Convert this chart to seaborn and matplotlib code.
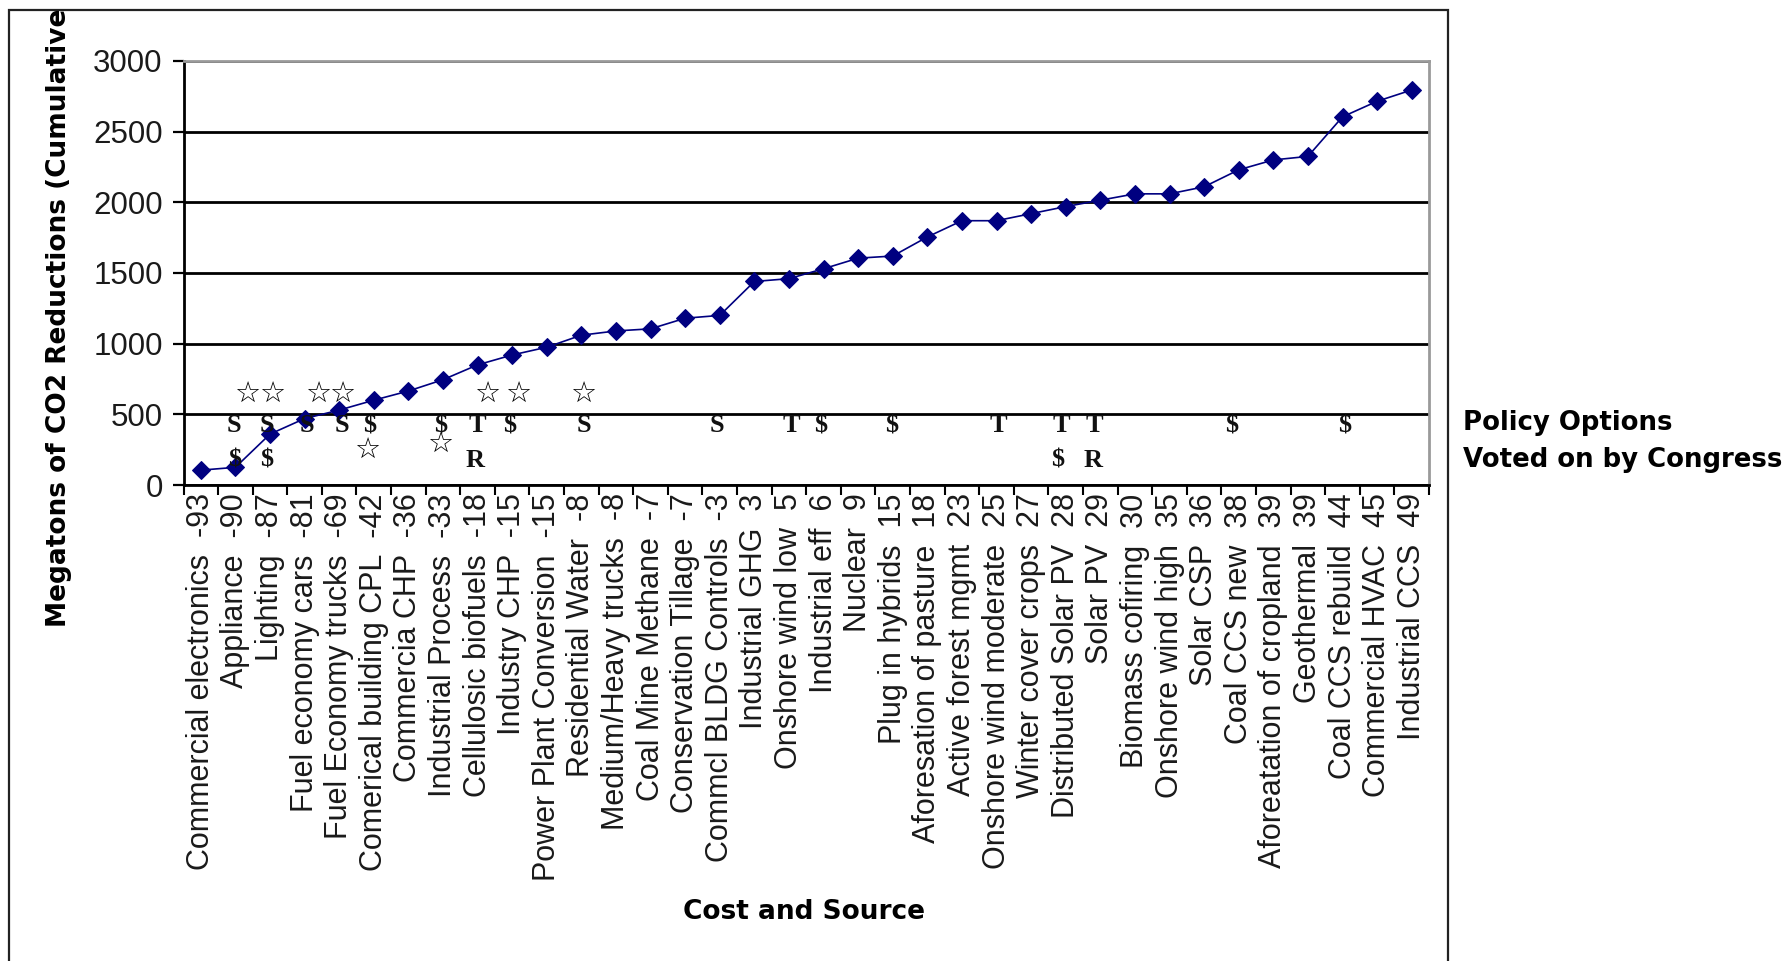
import numpy as np
import pandas as pd
import matplotlib
matplotlib.use("Agg")
import matplotlib.pyplot as plt
import seaborn as sns
from matplotlib.patches import Rectangle

# Abatement options, ordered by cost ($/ton CO2)
options = [
    "Commercial electronics", "Appliance", "Lighting", "Fuel economy cars",
    "Fuel Economy trucks", "Comerical building CPL", "Commercia CHP",
    "Industrial Process", "Cellulosic biofuels", "Industry CHP",
    "Power Plant Conversion", "Residential Water", "Medium/Heavy trucks",
    "Coal Mine Methane", "Conservation Tillage", "Commcl BLDG Controls",
    "Industrial GHG", "Onshore wind low", "Industrial eff", "Nuclear",
    "Plug in hybrids", "Aforesation of pasture", "Active forest mgmt",
    "Onshore wind moderate", "Winter cover crops", "Distributed Solar PV",
    "Solar PV", "Biomass cofiring", "Onshore wind high", "Solar CSP",
    "Coal CCS new", "Aforeatation of cropland", "Geothermal",
    "Coal CCS rebuild", "Commercial HVAC", "Industrial CCS",
]
cost = [-93, -90, -87, -81, -69, -42, -36, -33, -18, -15, -15, -8, -8, -7, -7,
        -3, 3, 5, 6, 9, 15, 18, 23, 25, 27, 28, 29, 30, 35, 36, 38, 39, 39,
        44, 45, 49]
cumulative_mt = [105, 125, 360, 470, 530, 600, 665, 745, 850, 920, 975, 1060,
                 1090, 1105, 1180, 1200, 1440, 1460, 1530, 1605, 1620, 1755,
                 1870, 1870, 1920, 1970, 2015, 2060, 2060, 2110, 2230, 2300,
                 2325, 2605, 2715, 2795]

# Policy symbols placed along the axis: (position in category units, level, symbol)
star_marks = [(1.33, 648), (2.05, 648), (3.38, 648), (4.10, 648), (8.27, 648),
              (9.18, 648), (11.05, 648), (4.82, 250), (6.91, 290)]
letter_marks = [
    (0.97, 420, "S"), (1.90, 420, "S"), (3.08, 420, "S"), (4.07, 420, "S"),
    (4.89, 420, "$"), (6.94, 420, "$"), (8.00, 420, "T"), (8.92, 420, "$"),
    (11.07, 420, "S"), (14.93, 420, "S"), (17.08, 420, "T"), (17.92, 420, "$"),
    (19.97, 420, "$"), (23.05, 420, "T"), (24.88, 420, "T"), (25.84, 420, "T"),
    (29.80, 420, "$"), (33.07, 420, "$"),
    (0.99, 180, "$"), (1.90, 180, "$"), (7.93, 170, "R"), (24.77, 180, "$"),
    (25.80, 170, "R"),
]

tick_labels = [f"{name}  {c}" for name, c in zip(options, cost)]

sns.set_style("white")
plt.rcParams["font.family"] = ["Liberation Sans", "DejaVu Sans"]

W, H = 1788, 961
fig = plt.figure(figsize=(W / 100, H / 100), dpi=100)
fig.patch.set_facecolor("white")

ax_left, ax_right, ax_top, ax_bottom = 183.5, 1429, 61, 485
ax = fig.add_axes([ax_left / W, 1 - ax_bottom / H,
                   (ax_right - ax_left) / W, (ax_bottom - ax_top) / H])

df = pd.DataFrame({"pos": np.arange(len(options)), "mt": cumulative_mt})
sns.lineplot(data=df, x="pos", y="mt", ax=ax, color="#000080", linewidth=1.2,
             marker="D", markersize=9, markeredgecolor="#000080")

n = len(options)
ax.set_xlim(-0.5, n - 0.5)
ax.set_ylim(0, 3000)
ax.set_yticks(np.arange(0, 3001, 500))
ax.set_xticks(np.arange(n))
ax.set_xticklabels(tick_labels, rotation=90)
ax.set_xticks(np.arange(-0.5, n, 1), minor=True)
ax.set_xlabel("")
ax.set_ylabel("")

ax.yaxis.grid(True, color="black", linewidth=2)
ax.set_axisbelow(True)
ax.tick_params(axis="y", left=True, length=8, width=1.6, color="black",
               pad=7, labelsize=22.5, labelcolor="#1a1a1a")
ax.tick_params(axis="x", which="major", bottom=True, length=0, pad=6,
               labelsize=22, labelcolor="#1a1a1a")
ax.tick_params(axis="x", which="minor", bottom=True, length=7, width=1.5,
               color="black", direction="out")

for side in ("left", "bottom"):
    ax.spines[side].set_color("black")
    ax.spines[side].set_linewidth(2)
for side in ("top", "right"):
    ax.spines[side].set_color("#9a9a9a")
    ax.spines[side].set_linewidth(2)

for x, y in star_marks:
    ax.text(x, y, "\u2606", ha="center", va="center", fontsize=21,
            family="DejaVu Sans", color="black", zorder=5)
for x, y, s in letter_marks:
    ax.text(x, y, s, ha="center", va="center", fontsize=19, fontweight="bold",
            family="Liberation Serif", color="#111111", zorder=5)

# Outer chart frame (continues below the bottom edge)
fig.add_artist(Rectangle((9 / W, -0.05), (1448 - 9) / W, 1.05 - 10 / H,
                         transform=fig.transFigure, fill=False,
                         edgecolor="#222222", linewidth=1.6))

fig.text(59 / W, 1 - 627 / H, "Megatons of CO2 Reductions (Cumulative",
         rotation=90, ha="center", va="bottom", fontsize=19,
         fontweight="bold", family="DejaVu Sans", color="black")
fig.text(804 / W, 1 - 912 / H, "Cost and Source", ha="center", va="center",
         fontsize=19, fontweight="bold", family="DejaVu Sans", color="black")
fig.text(1463 / W, 1 - 423 / H, "Policy Options", ha="left", va="center",
         fontsize=18.7, fontweight="bold", family="DejaVu Sans", color="black")
fig.text(1463 / W, 1 - 460 / H, "Voted on by Congress", ha="left",
         va="center", fontsize=18.7, fontweight="bold", family="DejaVu Sans",
         color="black")

fig.savefig("out.png", dpi=100, facecolor="white")
